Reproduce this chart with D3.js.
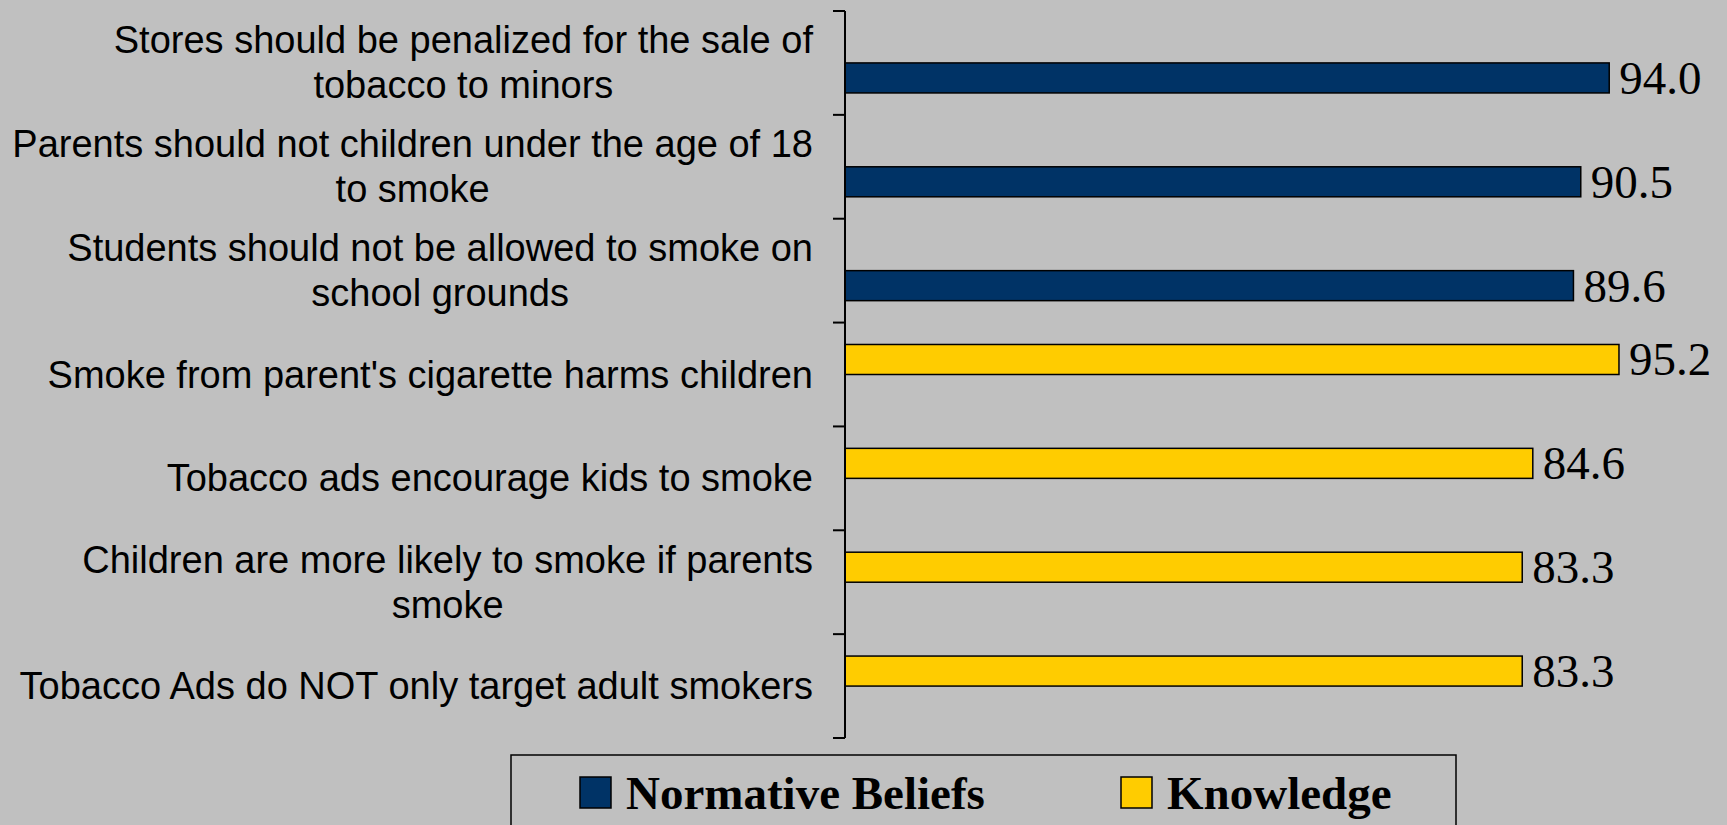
<!DOCTYPE html>
<html>
<head>
<meta charset="utf-8">
<script src="https://cdn.jsdelivr.net/npm/d3@7"></script>
<style>
  html, body { margin: 0; padding: 0; background: #c0c0c0; overflow: hidden; }
</style>
</head>
<body>
<div id="chart"></div>
<script>
// data, top to bottom
const categories = [
    "Stores should be penalized for the sale of\ntobacco to minors",
    "Parents should not children under the age of 18\nto smoke",
    "Students should not be allowed to smoke on\nschool grounds",
    "Smoke from parent's cigarette harms children",
    "Tobacco ads encourage kids to smoke",
    "Children are more likely to smoke if parents\nsmoke",
    "Tobacco Ads do NOT only target adult smokers"
];
const seriesNames = ["Normative Beliefs", "Knowledge"];
const normativeValues = [94.0, 90.5, 89.6, null, null, null, null];
const knowledgeValues = [null, null, null, 95.2, 84.6, 83.3, 83.3];
const colors = { "Normative Beliefs": "#003366", "Knowledge": "#ffcc00" };

const width = 1727, height = 825;
const margin = { top: 11, right: 69, bottom: 87, left: 845 };

const svg = d3.select("#chart")
    .append("svg")
    .attr("width", width)
    .attr("height", height);

svg.append("rect")
    .attr("width", width)
    .attr("height", height)
    .attr("fill", "#c0c0c0");

const x = d3.scaleLinear()
    .domain([0, 100])
    .range([margin.left, width - margin.right]);

const y = d3.scaleBand()
    .domain(categories)
    .range([margin.top, height - margin.bottom]);

// knowledge sits in the upper slot, normative in the lower one
const ySub = d3.scaleBand()
    .domain(["Knowledge", "Normative Beliefs"])
    .range([0, y.bandwidth()])
    .paddingOuter(0.73);

const rows = [];
categories.forEach((c, i) => {
    if (normativeValues[i] != null) rows.push({ cat: c, series: "Normative Beliefs", value: normativeValues[i] });
    if (knowledgeValues[i] != null) rows.push({ cat: c, series: "Knowledge", value: knowledgeValues[i] });
});

svg.selectAll("rect.bar")
    .data(rows)
    .join("rect")
    .attr("class", "bar")
    .attr("x", x(0))
    .attr("y", d => y(d.cat) + ySub(d.series))
    .attr("width", d => x(d.value) - x(0))
    .attr("height", ySub.bandwidth())
    .attr("fill", d => colors[d.series])
    .attr("stroke", "#000")
    .attr("stroke-width", 1.5);

svg.selectAll("text.value")
    .data(rows)
    .join("text")
    .attr("class", "value")
    .attr("x", d => x(d.value) + 10)
    .attr("y", d => y(d.cat) + ySub(d.series) + ySub.bandwidth() / 2 + 16)
    .attr("font-family", "'Liberation Serif', 'Times New Roman', serif")
    .attr("font-size", 47)
    .attr("fill", "#000")
    .text(d => d.value.toFixed(1));

// category axis: vertical line with ticks between categories
const axis = svg.append("g").attr("stroke", "#000").attr("stroke-width", 2);
axis.append("line")
    .attr("x1", x(0)).attr("x2", x(0))
    .attr("y1", y.range()[0]).attr("y2", y.range()[1]);
const tickYs = categories.map(c => y(c)).concat([y.range()[1]]);
axis.selectAll("line.tick")
    .data(tickYs)
    .join("line")
    .attr("class", "tick")
    .attr("x1", x(0) - 12).attr("x2", x(0))
    .attr("y1", d => d).attr("y2", d => d);

// labels: block right edge at 813, lines centred inside the block
const lineH = 45;
const labelRight = 813;
const labels = svg.selectAll("text.cat")
    .data(categories)
    .join("text")
    .attr("class", "cat")
    .attr("text-anchor", "middle")
    .attr("font-family", "'Liberation Sans', Arial, sans-serif")
    .attr("font-size", 38)
    .attr("fill", "#000");
labels.each(function(d) {
    const lines = d.split("\n");
    const cy = y(d) + y.bandwidth() / 2;
    const y0 = cy - (lines.length - 1) * lineH / 2 + 13;
    const spans = d3.select(this).selectAll("tspan")
        .data(lines)
        .join("tspan")
        .attr("y", (l, i) => y0 + i * lineH)
        .text(l => l);
    const maxW = d3.max(spans.nodes(), n => n.getComputedTextLength());
    spans.attr("x", labelRight - maxW / 2);
});

// legend
const legend = svg.append("g");
legend.append("rect")
    .attr("x", 511).attr("y", 755)
    .attr("width", 945).attr("height", 90)
    .attr("fill", "none")
    .attr("stroke", "#000")
    .attr("stroke-width", 1.5);
const legendX = [580, 1121];
seriesNames.forEach((s, i) => {
    legend.append("rect")
        .attr("x", legendX[i]).attr("y", 777)
        .attr("width", 31).attr("height", 31)
        .attr("fill", colors[s])
        .attr("stroke", "#000")
        .attr("stroke-width", 1.5);
    legend.append("text")
        .attr("x", legendX[i] + 46).attr("y", 809)
        .attr("font-family", "'Liberation Serif', 'Times New Roman', serif")
        .attr("font-weight", "bold")
        .attr("font-size", 47)
        .attr("fill", "#000")
        .text(s);
});
</script>
</body>
</html>
